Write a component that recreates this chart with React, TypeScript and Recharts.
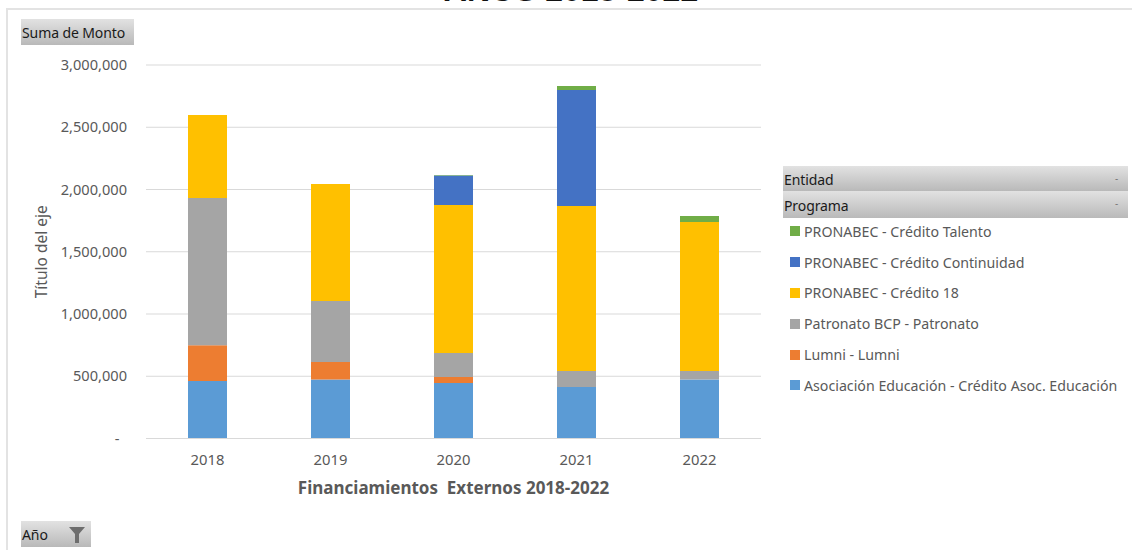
import { BarChart, Bar, XAxis, YAxis, CartesianGrid } from 'recharts'

const years = ['2018', '2019', '2020', '2021', '2022']

const asocEducacion = [462000, 474000, 446000, 414000, 474000]
const lumni = [288000, 140000, 48000, 0, 0]
const patronato = [1182000, 490000, 193000, 128000, 68000]
const credito18 = [666000, 940000, 1188000, 1325000, 1197000]
const continuidad = [0, 0, 238000, 932000, 0]
const talento = [0, 0, 3000, 32000, 48000]

const yTicks = [0, 500000, 1000000, 1500000, 2000000, 2500000, 3000000]

// bottom of the stack first
const series = [
  { key: 'asoc', name: 'Asociación Educación - Crédito Asoc. Educación', color: '#5b9bd5', values: asocEducacion },
  { key: 'lumni', name: 'Lumni - Lumni', color: '#ed7d31', values: lumni },
  { key: 'patronato', name: 'Patronato BCP - Patronato', color: '#a5a5a5', values: patronato },
  { key: 'c18', name: 'PRONABEC - Crédito 18', color: '#ffc000', values: credito18 },
  { key: 'continuidad', name: 'PRONABEC - Crédito Continuidad', color: '#4472c4', values: continuidad },
  { key: 'talento', name: 'PRONABEC - Crédito Talento', color: '#70ad47', values: talento },
]

const data = years.map((year, i) => {
  const row: Record<string, string | number> = { year }
  series.forEach(s => {
    row[s.key] = s.values[i]
  })
  return row
})

const FONT = '"Noto Sans", sans-serif'
const TEXT = '#595959'

function FieldButton({ label, style, dot }: { label: string; style: React.CSSProperties; dot?: boolean }) {
  return (
    <div
      style={{
        position: 'absolute',
        background: 'linear-gradient(#e2e2e2, #b9b9b9)',
        color: '#1a1a1a',
        fontFamily: FONT,
        fontSize: 14,
        letterSpacing: -0.1,
        display: 'flex',
        alignItems: 'center',
        paddingLeft: 1,
        paddingTop: 1,
        boxSizing: 'border-box',
        ...style,
      }}
    >
      {label}
      {dot && <span style={{ position: 'absolute', right: 10, top: 5, fontSize: 10, color: '#777' }}>-</span>}
    </div>
  )
}

function ProgramLegend() {
  return (
    <div style={{ position: 'absolute', left: 790, top: 216, fontFamily: FONT, fontSize: 14.2, color: TEXT }}>
      {[...series].reverse().map(s => (
        <div key={s.key} style={{ display: 'flex', alignItems: 'center', height: 30.8, whiteSpace: 'nowrap' }}>
          <span style={{ width: 10, height: 10, background: s.color, marginRight: 4 }} />
          {s.name}
        </div>
      ))}
    </div>
  )
}

export default function App() {
  return (
    <div style={{ position: 'fixed', left: 0, top: 0, width: 1132, height: 550, overflow: 'hidden', background: '#fff' }}>
      <div style={{ position: 'absolute', left: 6, top: 8, width: 1126, height: 542, borderLeft: '2px solid #e3e3e3', borderTop: '2px solid #e3e3e3', boxSizing: 'border-box' }} />
      <div
        style={{
          position: 'absolute',
          left: 371,
          width: 400,
          top: -28,
          textAlign: 'center',
          fontFamily: '"Liberation Sans", sans-serif',
          fontWeight: 'bold',
          fontSize: 32,
          color: '#111',
        }}
      >
        AÑOS 2018-2022
      </div>

      <div style={{ position: 'absolute', left: 0, top: 0 }}>
        <BarChart
          width={1132}
          height={550}
          data={data}
          margin={{ top: 65, right: 371, bottom: 71.5, left: 0 }}
          barSize={39}
        >
          <CartesianGrid vertical={false} stroke="#d9d9d9" strokeWidth={1} />
          <XAxis
            dataKey="year"
            height={40}
            stroke="#d9d9d9"
            tickLine={false}
            tick={{ fill: TEXT, fontSize: 14.8, fontFamily: FONT }}
            tickMargin={10}
            label={{
              value: 'Financiamientos\u00a0\u00a0Externos 2018-2022',
              position: 'insideBottom',
              offset: -15,
              fill: TEXT,
              fontSize: 17,
              fontWeight: 'bold',
              fontFamily: FONT,
            }}
          />
          <YAxis
            width={146}
            domain={[0, 3000000]}
            ticks={yTicks}
            axisLine={false}
            tickLine={false}
            tickMargin={13}
            tick={{ fill: TEXT, fontSize: 14.6, fontFamily: FONT }}
            tickFormatter={(v: number) => (v === 0 ? '-\u00a0\u00a0' : v.toLocaleString('en-US'))}
            label={{
              value: 'Título del eje',
              angle: -90,
              position: 'insideLeft',
              offset: 41,
              fill: TEXT,
              fontSize: 15.5,
              fontFamily: FONT,
              style: { textAnchor: 'middle' },
            }}
          />
          {series.map(s => (
            <Bar key={s.key} dataKey={s.key} name={s.name} stackId="monto" fill={s.color} isAnimationActive={false} />
          ))}
        </BarChart>
      </div>

      <ProgramLegend />
      <FieldButton label="Suma de Monto" style={{ left: 21, top: 19, width: 113, height: 26 }} />
      <FieldButton label="Entidad" dot style={{ left: 783, top: 166, width: 345, height: 25 }} />
      <FieldButton label="Programa" dot style={{ left: 783, top: 191, width: 345, height: 27 }} />
      <FieldButton label="Año" style={{ left: 21, top: 521, width: 70, height: 26 }} />
      <svg style={{ position: 'absolute', left: 68, top: 526 }} width={18} height={18} viewBox="0 0 18 18">
        <path d="M1 1 H17 L11 8 V17 H7 V8 Z" fill="#6e6e6e" />
      </svg>
    </div>
  )
}
